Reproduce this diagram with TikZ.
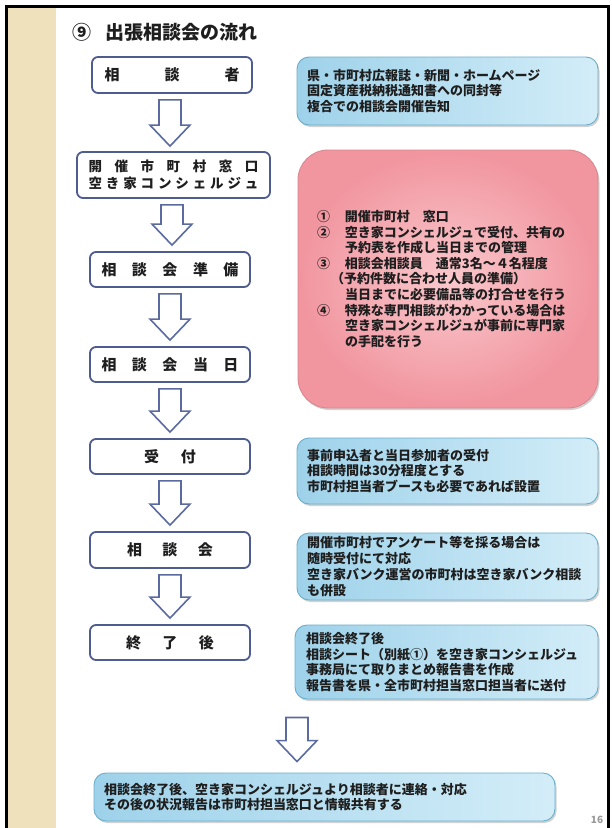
\documentclass[tikz,border=0pt]{standalone}
\usepackage{fontspec}
\newfontfamily\jp{Noto Sans CJK JP}
\usetikzlibrary{calc,shadows}
\definecolor{beige}{HTML}{EFE1BC}
\definecolor{boxline}{HTML}{4E5C8E}
\definecolor{arrline}{HTML}{5B6BA0}
\definecolor{bluea}{HTML}{9ED2EA}
\definecolor{blueb}{HTML}{D3EDF8}
\definecolor{blueline}{HTML}{6AAECB}
\definecolor{pinka}{HTML}{FAC8CC}
\definecolor{pinkb}{HTML}{F1959F}
\definecolor{pinkline}{HTML}{D98790}
\definecolor{ink}{HTML}{1E1E1E}
\tikzset{
  flowbox/.style={draw=boxline, line width=1.8pt, rounded corners=6pt, fill=white,
    inner sep=0pt, text=ink, font=\jp\bfseries\fontsize{15}{17}\selectfont},
  blockarr/.style={draw=arrline, line width=1.6pt, fill=white, line join=miter},
  infobox/.style={draw=blueline, line width=0.9pt, rounded corners=12pt,
    left color=bluea, right color=blueb, text=ink, align=left,
    inner ysep=0pt, inner xsep=10pt,
    font=\jp\bfseries\fontsize{13}{15.8}\selectfont,
    drop shadow={shadow xshift=1.5pt, shadow yshift=-2pt, opacity=0.35}},
  pinkbox/.style={draw=pinkline, line width=0.9pt, rounded corners=30pt,
    shading=radial, inner color=pinka, outer color=pinkb, text=ink, align=left,
    inner ysep=0pt, inner xsep=19pt,
    font=\jp\bfseries\fontsize{13}{15.6}\selectfont,
    drop shadow={shadow xshift=1.5pt, shadow yshift=-2pt, opacity=0.35}},
}
\newcommand\blockarrow[5]{%
  \draw[blockarr] let \p1=(#2.south), \p2=(#3.north) in
    (#1pt-11pt,\y1-#4pt) -- (#1pt+11pt,\y1-#4pt) -- (#1pt+11pt,\y2+#5pt+21pt)
    -- (#1pt+20pt,\y2+#5pt+21pt) -- (#1pt,\y2+#5pt) -- (#1pt-20pt,\y2+#5pt+21pt)
    -- (#1pt-11pt,\y2+#5pt+21pt) -- cycle;}
\begin{document}
\begin{tikzpicture}[x=1pt,y=-1pt]
\useasboundingbox (0,0) rectangle (612,828);
\fill[white] (0,0) rectangle (612,828);
% side stripe and frame
\fill[beige] (7,6) rectangle (56,828);
\draw[line width=3pt] (6,828) -- (6,6) -- (608,6) -- (608,828);
% title
\node[anchor=west, inner sep=0pt, text=ink, font=\jp\bfseries\fontsize{19}{21}\selectfont]
  (title) at (72,32) {⑨\hspace{14pt}出張相談会の流れ};
% left flow boxes
\node[flowbox, minimum width=160pt, minimum height=36pt] (b1) at (172,75)
  {\makebox[135pt]{相\hfill 談\hfill 者}};
\node[flowbox, minimum width=193pt, minimum height=46pt, align=center,
  font=\jp\bfseries\fontsize{13.5}{17}\selectfont] (b2) at (173.5,175)
  {\makebox[170pt]{開\hfill 催\hfill 市\hfill 町\hfill 村\hfill 窓\hfill 口}\\
   \makebox[170pt]{空\hfill き\hfill 家\hfill コ\hfill ン\hfill シ\hfill ェ\hfill ル\hfill ジ\hfill ュ}};
\node[flowbox, minimum width=160pt, minimum height=35pt] (b3) at (170,269.5)
  {\makebox[137pt]{相\hfill 談\hfill 会\hfill 準\hfill 備}};
\node[flowbox, minimum width=160pt, minimum height=35pt] (b4) at (170,364.5)
  {\makebox[137pt]{相\hfill 談\hfill 会\hfill 当\hfill 日}};
\node[flowbox, minimum width=160pt, minimum height=35pt] (b5) at (170,456.5)
  {\makebox[52pt]{受\hfill 付}};
\node[flowbox, minimum width=160pt, minimum height=36pt] (b6) at (170,550)
  {\makebox[86pt]{相\hfill 談\hfill 会}};
\node[flowbox, minimum width=160pt, minimum height=35pt] (b7) at (170,642.5)
  {\makebox[88pt]{終\hfill 了\hfill 後}};
% right info boxes
\node[infobox, minimum width=301pt, minimum height=68pt, text width=281pt] (r1) at (447.5,91)
  {県・市町村広報誌・新聞・ホームページ\\固定資産税納税通知書への同封等\\複合での相談会開催告知};
\node[pinkbox, minimum width=300pt, minimum height=258pt, text width=262pt] (pk) at (448,279)
  {\makebox[28pt][l]{①}開催市町村　窓口\\
   \makebox[28pt][l]{②}空き家コンシェルジュで受付、共有の\\
   \hspace*{28pt}予約表を作成し当日までの管理\\
   \makebox[28pt][l]{③}相談会相談員　通常3名～４名程度\\
   \hspace*{14pt}（予約件数に合わせ人員の準備）\\
   \hspace*{28pt}当日までに必要備品等の打合せを行う\\
   \makebox[28pt][l]{④}特殊な専門相談がわかっている場合は\\
   \hspace*{28pt}空き家コンシェルジュが事前に専門家\\
   \hspace*{28pt}の手配を行う};
\node[infobox, minimum width=301pt, minimum height=66pt, text width=281pt] (r2) at (447.5,471)
  {事前申込者と当日参加者の受付\\相談時間は30分程度とする\\市町村担当者ブースも必要であれば設置};
\node[infobox, minimum width=301pt, minimum height=67pt, text width=281pt] (r3) at (447.5,566.5)
  {開催市町村でアンケート等を採る場合は\\随時受付にて対応\\空き家バンク運営の市町村は空き家バンク相談\\も併設};
\node[infobox, minimum width=303pt, minimum height=74pt, text width=281pt, inner xsep=11pt] (r4) at (446.5,662)
  {相談会終了後\\相談シート（別紙①）を空き家コンシェルジュ\\事務局にて取りまとめ報告書を作成\\報告書を県・全市町村担当窓口担当者に送付};
\node[infobox, minimum width=461pt, minimum height=48pt, text width=441pt] (fin) at (324.5,797)
  {相談会終了後、空き家コンシェルジュより相談者に連絡・対応\\その後の状況報告は市町村担当窓口と情報共有する};
% block arrows
\blockarrow{170}{b1}{b2}{6}{5}
\blockarrow{172}{b2}{b3}{6}{6}
\blockarrow{170}{b3}{b4}{6}{6}
\blockarrow{170}{b4}{b5}{6}{6}
\blockarrow{170}{b5}{b6}{6}{6}
\blockarrow{170}{b6}{b7}{6}{6}
\blockarrow{297}{r4}{fin}{18}{11}
% page number
\node[inner sep=0pt, text=black!40, font=\jp\bfseries\fontsize{10}{12}\selectfont] (pg) at (597,820) {16};
\end{tikzpicture}
\end{document}
